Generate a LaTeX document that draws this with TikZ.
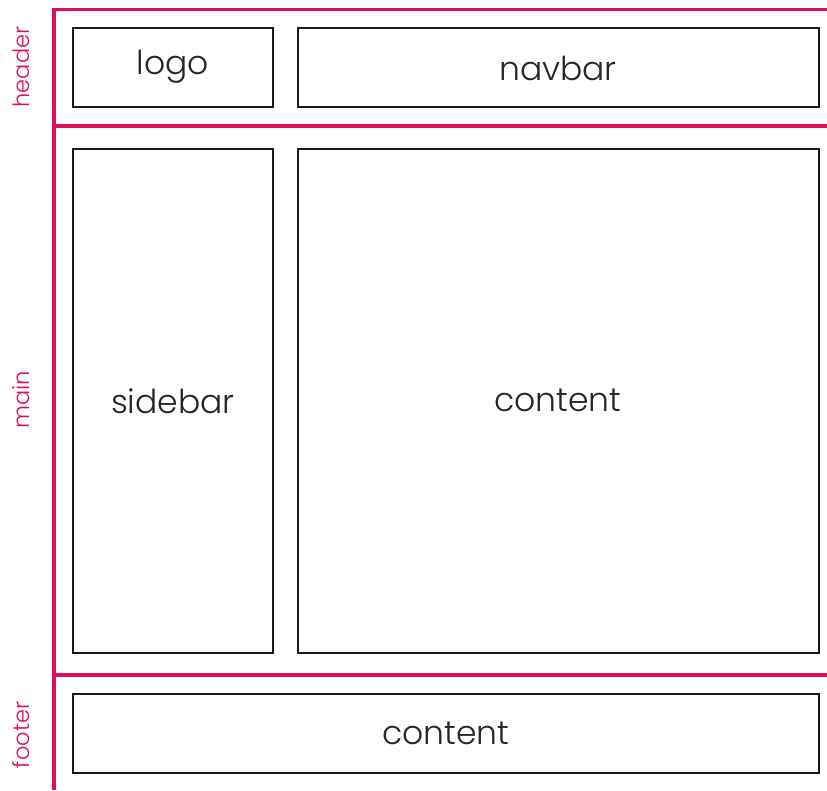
\documentclass[tikz,border=0pt]{standalone}
\usepackage{fontspec}
\setmainfont{Poppins}[UprightFont={* Light}]
\definecolor{pinkline}{RGB}{222,14,92}
\begin{document}
\begin{tikzpicture}[x=1pt,y=-1pt,
  pinkrule/.style={draw=pinkline,line width=3.2pt},
  box/.style={draw=black!90,line width=1.6pt,fill=white},
  boxtext/.style={font=\fontsize{33}{38}\selectfont,text=black!85},
  sidelabel/.style={rotate=90,font=\fontsize{22.5}{26}\selectfont,text=pinkline}]
\useasboundingbox (0,0) rectangle (827,790);
% pink structure
\coordinate (vtop) at (54,8);
\coordinate (vbot) at (54,790);
\draw[pinkrule] (vtop) -- (vbot);
\coordinate (h1a) at (54,9.5);  \coordinate (h1b) at (827,9.5);
\coordinate (h2a) at (54,126); \coordinate (h2b) at (827,126);
\coordinate (h3a) at (54,675); \coordinate (h3b) at (827,675);
\draw[pinkrule] (h1a) -- (h1b);
\draw[pinkrule] (h2a) -- (h2b);
\draw[pinkrule] (h3a) -- (h3b);
% side labels
\node[sidelabel] (lheader) at (21,67) {header};
\node[sidelabel] (lmain) at (21,400) {main};
\node[sidelabel] (lfooter) at (21,735) {footer};
% boxes
\draw[box] (73,28) rectangle (273,107);
\node[boxtext] (logo) at (173,67) {logo};
\draw[box] (298,28) rectangle (819,107);
\node[boxtext] (navbar) at (558,68) {navbar};
\draw[box] (73,149) rectangle (273,653);
\node[boxtext] (sidebar) at (173,401) {sidebar};
\draw[box] (298,149) rectangle (819,653);
\node[boxtext] (content) at (558,400) {content};
\draw[box] (73,694) rectangle (819,773);
\node[boxtext] (fcontent) at (446,733) {content};
\end{tikzpicture}
\end{document}
